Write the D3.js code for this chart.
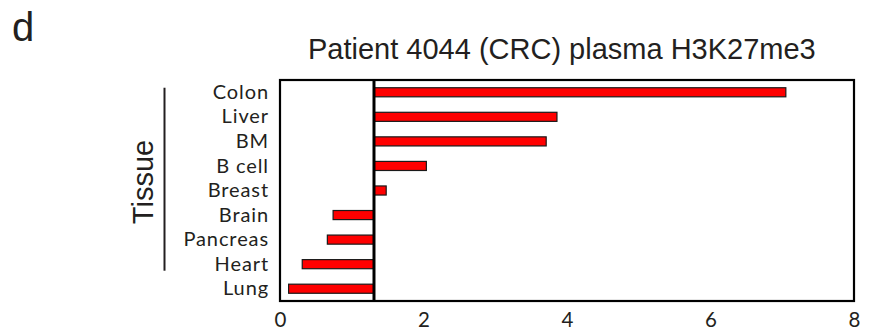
<!DOCTYPE html>
<html>
<head>
<meta charset="utf-8">
<script src="https://cdn.jsdelivr.net/npm/d3@7"></script>
<style>
  html, body { margin: 0; padding: 0; background: #fff; }
  svg { display: block; }
</style>
</head>
<body>
<svg id="chart" width="878" height="336"></svg>
<script>
// Tissue enrichment bars (panel d).
const tissues = ["Colon", "Liver", "BM", "B cell", "Breast", "Brain", "Pancreas", "Heart", "Lung"];
const scores = [7.05, 3.86, 3.71, 2.04, 1.48, 0.74, 0.66, 0.31, 0.12];
const baseline = 1.31;
const xTicks = [0, 2, 4, 6, 8];
const title = "Patient 4044 (CRC) plasma H3K27me3";

const svg = d3.select("#chart");
const box = { left: 280, right: 854, top: 80, bottom: 301 };

const x = d3.scaleLinear().domain([0, 8]).range([box.left, box.right]);
const y = d3.scaleBand()
  .domain(tissues)
  .range([box.top, box.bottom])
  .paddingInner(0.63)
  .paddingOuter(0.315);

// Lato keeps the humanist look of the labels with a tighter line box;
// a little letter-spacing brings the widths up to the original's.
const labelFont = "Lato, 'Open Sans', sans-serif";
const titleFont = "'Liberation Sans', Arial, sans-serif";

// Panel letter and title.
svg.append("text")
  .attr("x", 12).attr("y", 41)
  .attr("font-family", titleFont).attr("font-size", 40)
  .attr("fill", "#231f20")
  .text("d");

svg.append("text")
  .attr("x", 308).attr("y", 59)
  .attr("font-family", titleFont).attr("font-size", 29)
  .attr("fill", "#231f20")
  .text(title);

// Bars, from the baseline to each score.
const rows = tissues.map((t, i) => ({ tissue: t, v: scores[i] }));
svg.append("g")
  .selectAll("rect")
  .data(rows)
  .join("rect")
  .attr("x", (d) => x(Math.min(d.v, baseline)))
  .attr("width", (d) => Math.abs(x(d.v) - x(baseline)))
  .attr("y", (d) => y(d.tissue))
  .attr("height", y.bandwidth())
  .attr("fill", "#ff0000")
  .attr("stroke", "#1a1a1a")
  .attr("stroke-width", 1.2);

// Frame and baseline rule.
svg.append("rect")
  .attr("x", box.left).attr("y", box.top)
  .attr("width", box.right - box.left).attr("height", box.bottom - box.top)
  .attr("fill", "none").attr("stroke", "#000").attr("stroke-width", 2.2);

svg.append("line")
  .attr("x1", x(baseline)).attr("x2", x(baseline))
  .attr("y1", box.top).attr("y2", box.bottom)
  .attr("stroke", "#000").attr("stroke-width", 3);

// Category labels.
const yAxis = d3.axisLeft(y).tickSize(0).tickPadding(11);
const gy = svg.append("g").attr("transform", `translate(${box.left},0)`).call(yAxis);
gy.select(".domain").remove();
gy.selectAll("text")
  .attr("font-family", labelFont).attr("font-size", 20)
  .attr("letter-spacing", 0.9)
  .attr("fill", "#231f20")
  .attr("dy", "0.33em");

// X tick labels (no tick marks in the original).
const xAxis = d3.axisBottom(x).tickValues(xTicks).tickSize(0).tickPadding(11).tickFormat(d3.format("d"));
const gx = svg.append("g").attr("transform", `translate(0,${box.bottom})`).call(xAxis);
gx.select(".domain").remove();
gx.selectAll("text")
  .attr("font-family", labelFont).attr("font-size", 20.5)
  .attr("fill", "#231f20");

// "Tissue" bracket.
svg.append("line")
  .attr("x1", 164.5).attr("x2", 164.5)
  .attr("y1", y("Colon")).attr("y2", y("Heart") + y.bandwidth() + 2)
  .attr("stroke", "#231f20").attr("stroke-width", 2);

svg.append("text")
  .attr("transform", "translate(153,182) rotate(-90)")
  .attr("text-anchor", "middle")
  .attr("font-family", titleFont).attr("font-size", 29)
  .attr("fill", "#231f20")
  .text("Tissue");
</script>
</body>
</html>
